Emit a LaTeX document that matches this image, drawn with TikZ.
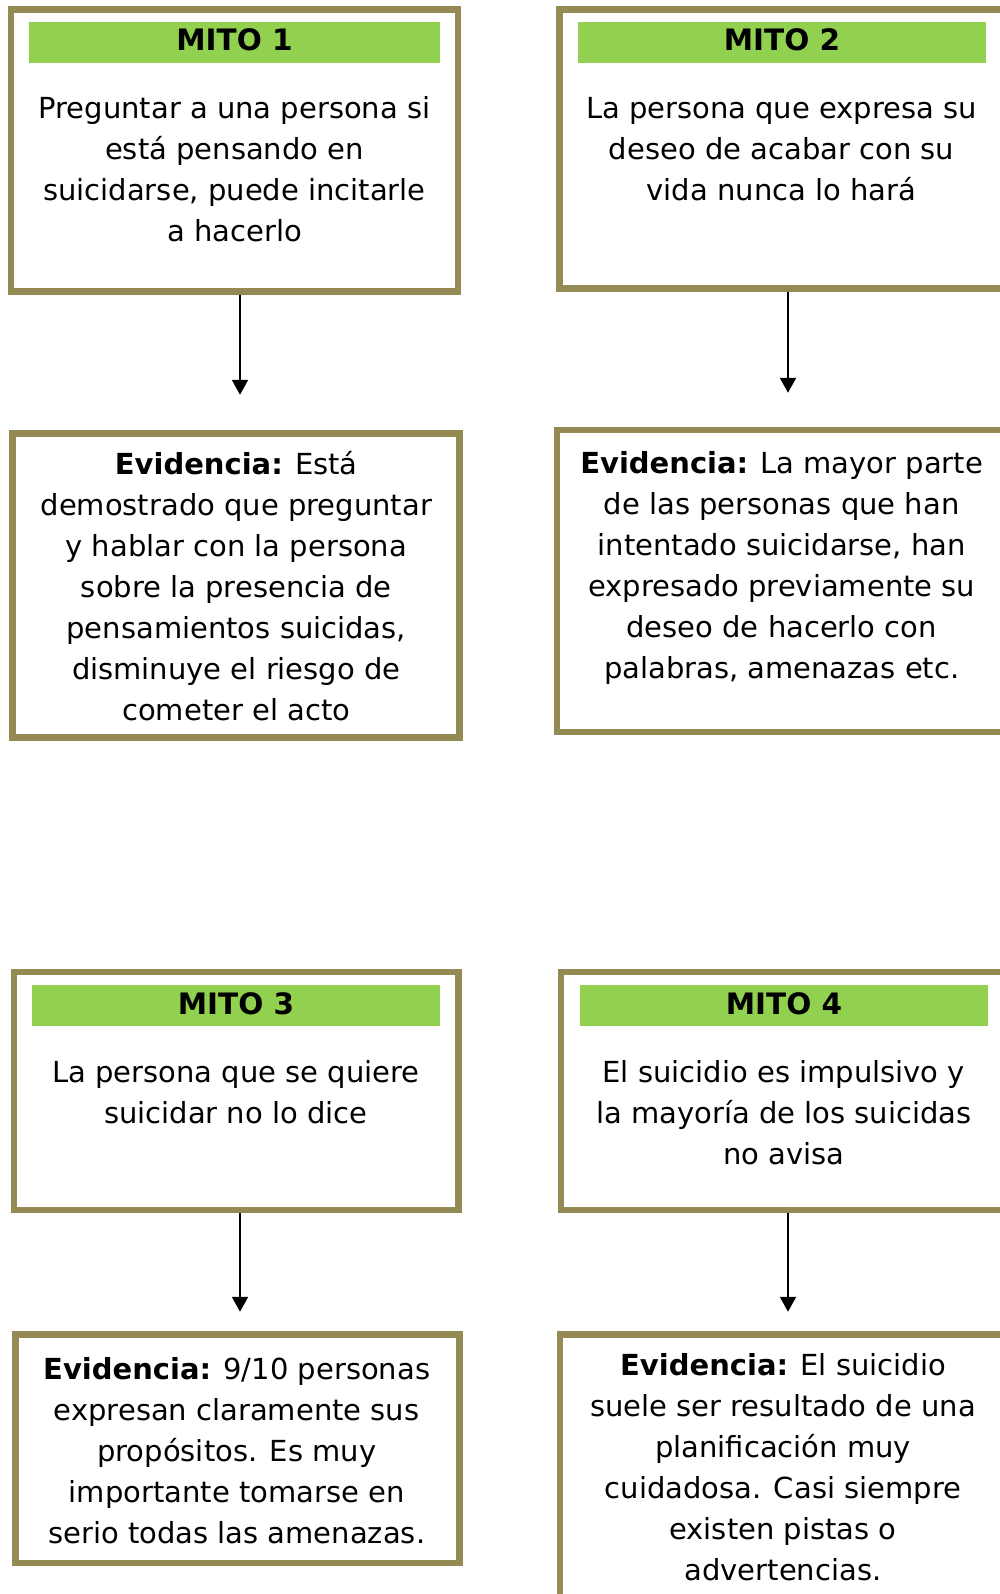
\documentclass[tikz,border=0pt]{standalone}
\usepackage{fontspec}
\setmainfont{DejaVu Sans}
\usepackage{tikz}
\usetikzlibrary{arrows.meta,calc,positioning}

\definecolor{oliva}{HTML}{948A54}
\definecolor{verde}{HTML}{92D050}
\newcommand{\textofont}{\fontsize{29}{41}\selectfont}
\newcommand{\titulofont}{\fontsize{29.5}{35}\selectfont\bfseries}

\begin{document}
\begin{tikzpicture}
[
	               x = 1pt,
	               y = -1pt,
	            ->, >= {Triangle[width=16pt,length=15pt]},
	   marco/.style = { draw=oliva, line width=6.5pt, inner sep=0pt },
	  titulo/.style = { fill=verde, inner sep=0pt, minimum width=408pt, minimum height=41pt,
	                    text height=29pt, text depth=12pt, font=\titulofont },
	   texto/.style = { align=center, anchor=base, inner sep=0pt, font=\textofont },
	  flecha/.style = { line width=2.2pt }
]
	\useasboundingbox (0,0) rectangle (1000,1594);

	% first myth (texts sit on the baseline of their last line)
	% nodes
	\node (M1) at (234.5,150.5) [marco, minimum width=447pt, minimum height=282pt] {};
	\node (T1) at (234.5,42.5)  [titulo, minimum width=411pt] {MITO 1};
	\node (B1) at (234.5,241.5) [texto] {Preguntar a una persona si\\está pensando en\\suicidarse, puede incitarle\\a hacerlo};
	\node (E1) at (236,585.5)   [marco, minimum width=447pt, minimum height=304pt] {};
	\node (C1) at (236.3,720.5) [texto] {\textbf{Evidencia:} Está\\demostrado que preguntar\\y hablar con la persona\\sobre la presencia de\\pensamientos suicidas,\\disminuye el riesgo de\\cometer el acto};

	% edges
	\draw [->, flecha, shorten >=35.5pt] ([xshift=5.5pt]M1.south) -- ([xshift=5.5pt]M1.south |- E1.north);

	% second myth
	% nodes
	\node (M2) at (782,149)     [marco, minimum width=445pt, minimum height=279pt] {};
	\node (T2) at (782,42.5)    [titulo] {MITO 2};
	\node (B2) at (781.5,201)   [texto] {La persona que expresa su\\deseo de acabar con su\\vida nunca lo hará};
	\node (E2) at (781.5,581)   [marco, minimum width=449pt, minimum height=302pt] {};
	\node (C2) at (781.7,678)   [texto] {\textbf{Evidencia:} La mayor parte\\de las personas que han\\intentado suicidarse, han\\expresado previamente su\\deseo de hacerlo con\\palabras, amenazas etc.};

	% edges
	\draw [->, flecha, shorten >=34pt] ([xshift=6pt]M2.south) -- ([xshift=6pt]M2.south |- E2.north);

	% third myth
	% nodes
	\node (M3) at (236.35,1091)  [marco, minimum width=444.7pt, minimum height=238pt] {};
	\node (T3) at (236,1005.5)   [titulo] {MITO 3};
	\node (B3) at (235.8,1123.5) [texto] {La persona que se quiere\\suicidar no lo dice};
	\node (E3) at (237.6,1448.75) [marco, minimum width=444.2pt, minimum height=228.5pt] {};
	\node (C3) at (236.7,1543)   [texto] {\textbf{Evidencia:} 9/10 personas\\expresan claramente sus\\propósitos. Es muy\\importante tomarse en\\serio todas las amenazas.};

	% edges
	\draw [->, flecha, shorten >=19.5pt] ([xshift=3.65pt]M3.south) -- ([xshift=3.65pt]M3.south |- E3.north);

	% fourth myth
	% nodes
	\node (M4) at (784,1091)    [marco, minimum width=446pt, minimum height=238pt] {};
	\node (T4) at (784,1005.5)  [titulo] {MITO 4};
	\node (B4) at (783.8,1164.8) [texto] {El suicidio es impulsivo y\\la mayoría de los suicidas\\no avisa};
	\node (E4) at (783,1497)    [marco, minimum width=446pt, minimum height=325pt] {};
	\node (C4) at (783,1580.5)  [texto] {\textbf{Evidencia:} El suicidio\\suele ser resultado de una\\planificación muy\\cuidadosa. Casi siempre\\existen pistas o\\advertencias.};

	% edges
	\draw [->, flecha, shorten >=19.5pt] ([xshift=4pt]M4.south) -- ([xshift=4pt]M4.south |- E4.north);
\end{tikzpicture}
\end{document}
